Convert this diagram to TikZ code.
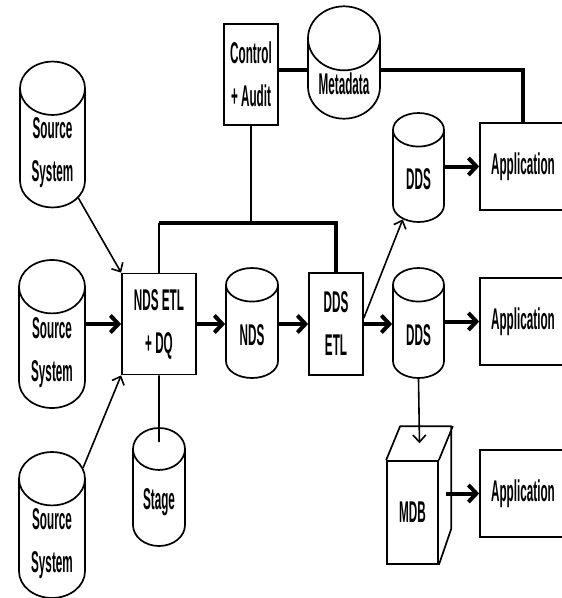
\documentclass[tikz,border=0pt]{standalone}
\usepackage{fontspec}
\setmainfont{Liberation Sans}[FakeStretch=0.39]
\usetikzlibrary{shapes.geometric,arrows.meta,calc}
\newcommand{\boxFont}[0]{\fontsize{30}{43}\selectfont\bfseries}

\begin{document}
\begin{tikzpicture}[x=1pt, y=-1pt]
  \tikzset{
    every node/.style={font=\boxFont, align=center, line width=1.7pt},
    db/.style 2 args={draw, cylinder, shape border rotate=90, aspect=1.17,
      minimum width=#1, minimum height=#2, anchor=shape center, inner sep=2pt},
    box/.style 2 args={draw, rectangle, minimum width=#1, minimum height=#2, inner sep=2pt},
    feed/.style={line width=1.6pt, -{Straight Barb[length=7pt,width=13pt]}},
    flow/.style={line width=4pt, -{Straight Barb[length=8pt,width=17pt]}},
    wire/.style={line width=1.6pt},
    bus/.style={line width=4pt}
  }
  \clip (0,0) rectangle (562,598);
  \node[db={65}{145}] (src1) at (52.5,134.5) {Source\\System};
  \node[db={66}{148}] (src2) at (52,334) {Source\\System};
  \node[db={66}{139}] (src3) at (52,525) {Source\\System};
  \node[box={74}{101}] (ndsetl) at (159,324) {NDS ETL\\+ DQ};
  \node[db={52}{110}] (nds) at (252,323) {NDS};
  \node[db={52}{118}] (stage) at (159,487) {Stage};
  \node[box={54}{102}] (ddsetl) at (336,324) {DDS\\ETL};
  \node[box={54}{101}] (ctrl) at (251,74.5) {Control\\+ Audit};
  \node[db={72}{111}] (meta) at (344,62.5) {Metadata};
  \node[db={51}{109}] (ddstop) at (418.5,167.5) {DDS};
  \node[db={51}{110}] (ddsmid) at (418.5,323) {DDS};
  \node[box={86}{87}] (app1) at (523,166.5) {Application};
  \node[box={86}{87}] (app2) at (523,321.5) {Application};
  \node[box={86}{87}] (app3) at (523,493.5) {Application};
  \node[box={51}{103}] (mdb) at (412.5,512.5) {MDB};
  \draw[line width=1.7pt, line join=round] (mdb.north west) -- ++(14,-34) -- ++(51,0) -- ++(0,103) -- (mdb.south east)
    (mdb.north east) -- ++(14,-34);
  \coordinate (mdbtop) at ($(mdb.north)+(7,-17)$);
  \coordinate (bus) at (0,223);
  \coordinate (metawire) at (0,70);

  \draw[feed] (src1) -- (ndsetl.north west);
  \draw[feed] (src3) -- (ndsetl.south west);
  \draw[flow] (src2.east |- ndsetl) -- (ndsetl);
  \draw[flow] (ndsetl) -- (nds.west |- ndsetl);
  \draw[flow] (nds.east |- ndsetl) -- (ddsetl);
  \draw[flow] (ddsetl) -- (ddsmid.west |- ddsetl);
  \draw[flow] (ddsmid.east |- app2) -- (app2);
  \draw[flow] (ddstop.east |- app1) -- (app1);
  \draw[feed] ([yshift=6pt]ddsetl.east) -- (ddstop);
  \draw[feed] (ddsmid.south) -- (mdbtop);
  \draw[flow] ($(mdb.east |- app3)+(7,0)$) -- (app3);
  \draw[wire] (ndsetl.south) -- ($(stage.north)+(0,15)$);

  \draw[bus] (ddsetl.north) |- (ndsetl.north |- bus);
  \draw[wire] (ndsetl.north |- bus) -- (ndsetl.north);
  \draw[wire] (ctrl.south) -- (ctrl.south |- bus);
  \draw[bus] (ctrl.east |- metawire) -- (meta.west |- metawire);
  \draw[bus] (meta.east |- metawire) -| (app1.north);
\end{tikzpicture}
\end{document}
